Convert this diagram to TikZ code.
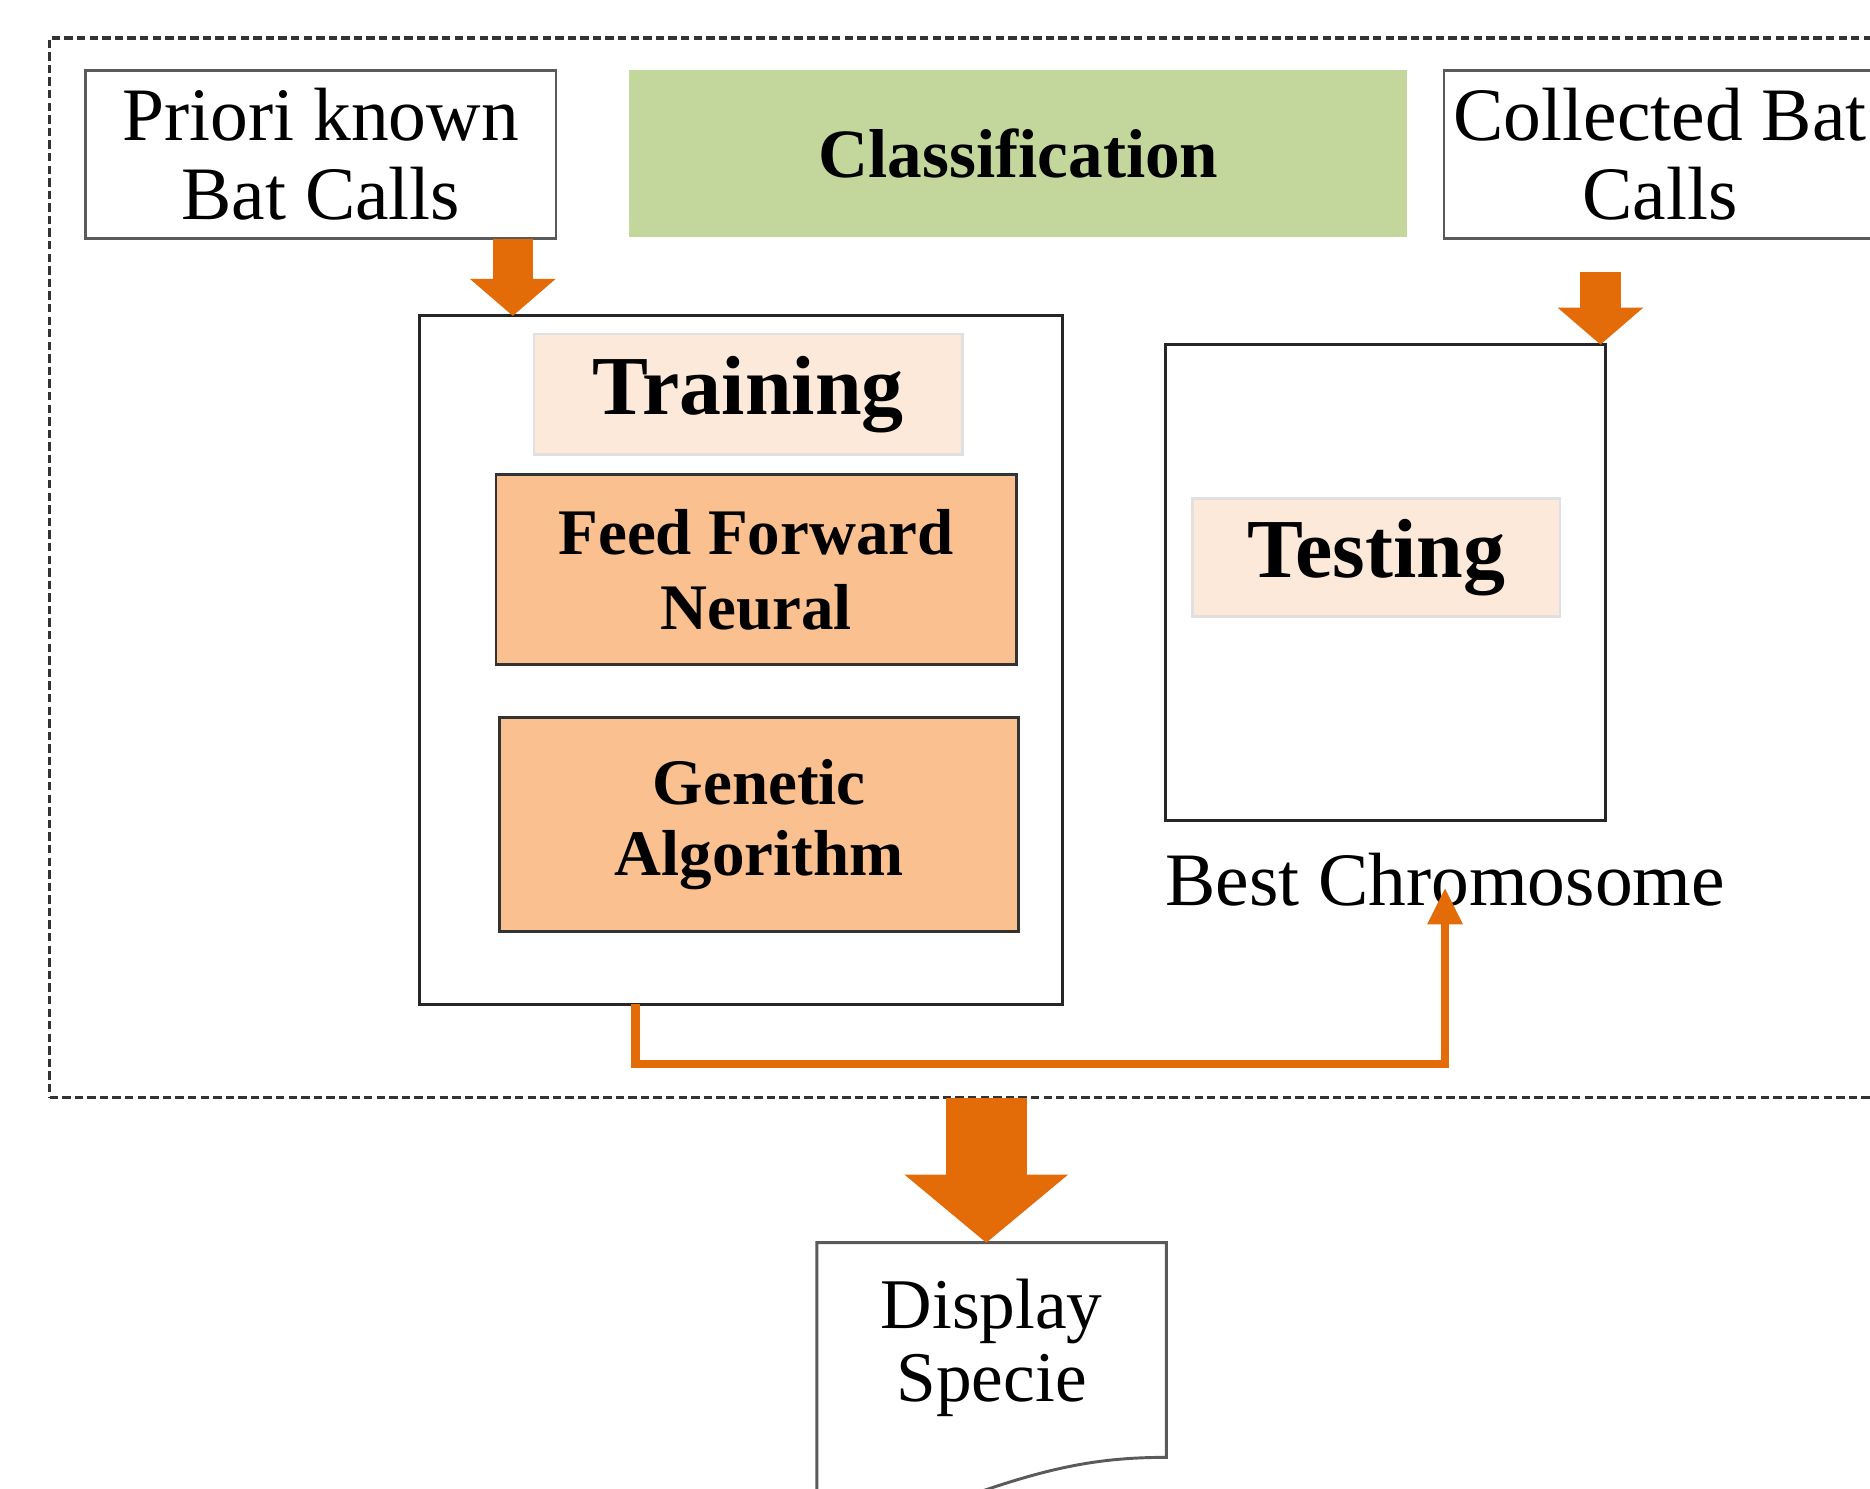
\documentclass[tikz,border=0pt]{standalone}
\usepackage{fontspec}
\setmainfont{Liberation Serif}
\usetikzlibrary{arrows.meta,calc}
\definecolor{arrorange}{HTML}{E36C09}
\definecolor{greenfill}{HTML}{C3D69B}
\definecolor{peach}{HTML}{FDE9D9}
\definecolor{orangefill}{HTML}{FAC090}
\definecolor{bordergray}{HTML}{5A5A5A}
\begin{document}
\begin{tikzpicture}[x=0.01cm,y=-0.01cm,
  every node/.style={inner sep=0pt,outer sep=0pt},
  plainbox/.style={draw=bordergray,line width=0.6pt,fill=white,align=center,font=\fontsize{18}{18.8}\selectfont},
  labelbox/.style={fill=peach,draw=black!12,line width=0.6pt,font=\bfseries\fontsize{20}{22}\selectfont},
  algbox/.style={fill=orangefill,draw=black!80,line width=0.7pt,align=center},
  framebox/.style={draw=black!85,line width=0.7pt},
  blockarrow/.style={draw=arrorange,line width=0.34cm,-{Triangle[width=0.72cm,length=0.31cm,line width=0pt]}},
  bigarrow/.style={draw=arrorange,line width=0.68cm,-{Triangle[width=1.37cm,length=0.57cm,line width=0pt]}},
  conn/.style={draw=arrorange,line width=2pt,-{Triangle[width=0.30cm,length=0.30cm,line width=0pt]}},
  docline/.style={draw=bordergray,line width=0.7pt}]
\useasboundingbox (0,0) rectangle (1568,1248);
\clip (0,0) rectangle (1568,1248);
\fill[white] (0,0) rectangle (1568,1248);
% outer dashed classification frame
\node[draw=black!80,line width=0.9pt,dash pattern=on 2pt off 1pt,minimum width=15.48cm,minimum height=8.88cm] (classbox) at (816,476) {};
% top row
\node[plainbox,minimum width=3.94cm,minimum height=1.41cm] (priori) at (269,129.5) {Priori known\\Bat Calls};
\node[fill=greenfill,minimum width=6.52cm,minimum height=1.40cm,font=\bfseries\fontsize{16.5}{18}\selectfont] (classif) at (854,129) {Classification};
\node[plainbox,minimum width=3.62cm,minimum height=1.41cm] (collected) at (1392,129.5) {Collected Bat\\Calls};
% training
\node[framebox,minimum width=5.39cm,minimum height=5.77cm] (training) at (621.5,553.5) {};
\node[labelbox,minimum width=3.59cm,minimum height=1.01cm] (trainlabel) at (627.5,330.5) {Training};
\node[algbox,minimum width=4.36cm,minimum height=1.59cm,font=\bfseries\fontsize{15.5}{17.9}\selectfont] (ffn) at (634,477.5) {\rule{0pt}{0.25cm}Feed Forward\\Neural};
\node[algbox,minimum width=4.35cm,minimum height=1.79cm,font=\bfseries\fontsize{15.5}{17.1}\selectfont] (ga) at (636.5,691.5) {Genetic\\Algorithm};
% testing
\node[framebox,minimum width=3.69cm,minimum height=3.99cm] (testing) at (1161.5,488.5) {};
\node[labelbox,minimum width=3.08cm,minimum height=0.99cm] (testlabel) at (1154,467.5) {Testing};
\node[anchor=west,font=\fontsize{18}{19}\selectfont] (best) at (977,738) {Best Chromosome};
% display document
\node[align=center,minimum width=2.93cm,minimum height=1.66cm,font=\fontsize{17}{17.3}\selectfont] (display) at (831.5,1130) {Display\\Specie};
\draw[docline] (display.north west |- 0,1300) -- (display.north west |- 0,1042) -- (display.north east |- 0,1042) -- (display.north east |- 0,1222)
  .. controls (915,1222) and (870,1232) .. (780,1266);
% arrows
\coordinate (cstart) at (1342,228);
\draw[blockarrow] (430,0 |- priori.south) -- (430,0 |- training.north);
\draw[blockarrow] (cstart) -- (1342,0 |- testing.north);
\draw[bigarrow] (827,0 |- classbox.south) -- (827,1042);
\draw[conn] (training.south -| 533,0) -- ++(0,50) -| ([yshift=-0.07cm]best.center);
\end{tikzpicture}
\end{document}
